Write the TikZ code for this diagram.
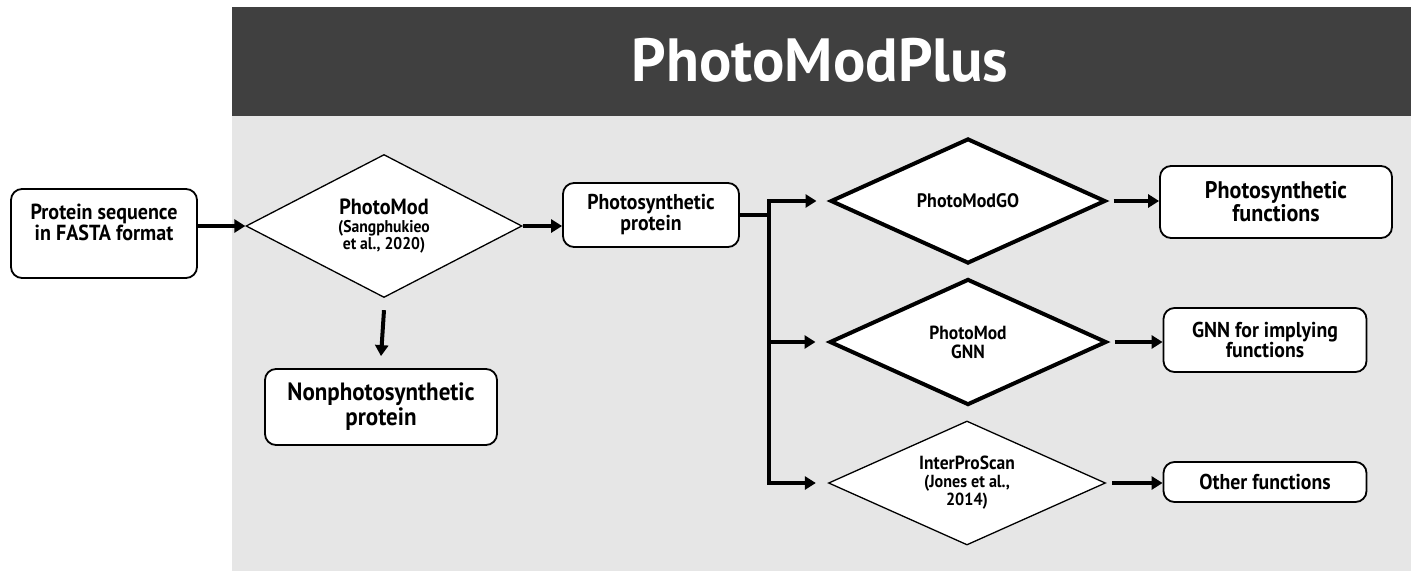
\documentclass[tikz,border=0pt]{standalone}
\usepackage{fontspec}
\setmainfont[FakeStretch=0.92]{PT Sans}
\newfontfamily\titlefont[FakeStretch=0.99]{PT Sans}
\usetikzlibrary{shapes.geometric,arrows.meta,calc}
\definecolor{hdr}{HTML}{404040}
\definecolor{bgc}{HTML}{E6E6E6}
\begin{document}
\begin{tikzpicture}[x=1pt,y=-1pt,
  box/.style={draw, rounded corners=11pt, line width=1.8pt, fill=white, inner sep=0pt, align=center, font=\bfseries},
  thindia/.style={draw, diamond, aspect=2.2, inner sep=0pt, line width=1.3pt, fill=white, align=center, font=\bfseries},
  thickdia/.style={thindia, line width=4pt},
  arr/.style={line width=4pt, -{Triangle[length=11pt,width=13pt]}},
  conn/.style={line width=4pt}
]
\useasboundingbox (0,0) rectangle (1411,571);
\fill[bgc] (232,116) rectangle (1411,571);
\fill[hdr] (232,7) rectangle (1411,116);
\node[text=white, font=\titlefont\bfseries\fontsize{61}{61}\selectfont] (title) at (820,60) {PhotoModPlus};

% input
\node[box, minimum width=186pt, minimum height=89pt] (in) at (104,233.5) {};
\node[align=center, font=\bfseries\fontsize{21.8}{21}\selectfont] (intxt) at (104,222) {Protein sequence\\in FASTA format};

% PhotoMod diamond
\node[thindia, minimum width=276pt, minimum height=143pt, font=\bfseries\fontsize{17}{17}\selectfont] (d1) at (384,226)
  {{\fontsize{22}{21}\selectfont PhotoMod}\\[1pt](Sangphukieo\\et al., 2020)};

\node[box, minimum width=232pt, minimum height=76pt, font=\bfseries\fontsize{25}{25}\selectfont] (non) at (381,407) {Nonphotosynthetic\\protein};
\node[box, minimum width=176pt, minimum height=64pt, font=\bfseries\fontsize{21.5}{21}\selectfont] (ps) at (651,215) {Photosynthetic\\protein};
\coordinate (br) at ($(ps.east)+(29,0)$);

\node[thickdia, minimum width=275pt, minimum height=125pt, font=\bfseries\fontsize{19.5}{20}\selectfont] (g1) at (968,201) {PhotoModGO};
\node[thickdia, minimum width=277pt, minimum height=126pt, font=\bfseries\fontsize{19}{19}\selectfont] (g2) at (968,342) {PhotoMod\\GNN};
\node[thindia, minimum width=277pt, minimum height=124pt, font=\bfseries\fontsize{17.5}{18}\selectfont] (g3) at (967,483)
  {{\fontsize{19}{19}\selectfont InterProScan}\\(Jones et al.,\\2014)};

\node[box, minimum width=232pt, minimum height=72pt, font=\bfseries\fontsize{24}{23}\selectfont] (f1) at (1276,202) {Photosynthetic\\functions};
\node[box, minimum width=203pt, minimum height=64pt, font=\bfseries\fontsize{21.5}{20}\selectfont] (f2) at (1265,340) {GNN for implying\\functions};
\node[box, minimum width=203pt, minimum height=40pt, font=\bfseries\fontsize{21.5}{21}\selectfont] (f3) at (1265,482) {Other functions};

% connectors
\draw[arr] (in.east |- d1.west) -- (d1.west);
\draw[arr] ([yshift=-12pt]d1.south) -- ([yshift=12pt]non.north);
\draw[arr] (d1.east) -- (ps.west |- d1.east);
\draw[conn] (ps.east) -- (br);
\draw[conn] ([yshift=2pt]br |- g1.west) -- ([yshift=-2pt]br |- g3.west);
\draw[arr] (br |- g1.west) -- ([xshift=-12pt]g1.west);
\draw[arr] (br |- g2.west) -- ([xshift=-12pt]g2.west);
\draw[arr] (br |- g3.west) -- ([xshift=-12pt]g3.west);
\draw[arr] ([xshift=6pt]g1.east) -- (f1.west |- g1.east);
\draw[arr] ([xshift=6pt]g2.east) -- (f2.west |- g2.east);
\draw[arr] ([xshift=6pt]g3.east) -- (f3.west |- g3.east);
\end{tikzpicture}
\end{document}
